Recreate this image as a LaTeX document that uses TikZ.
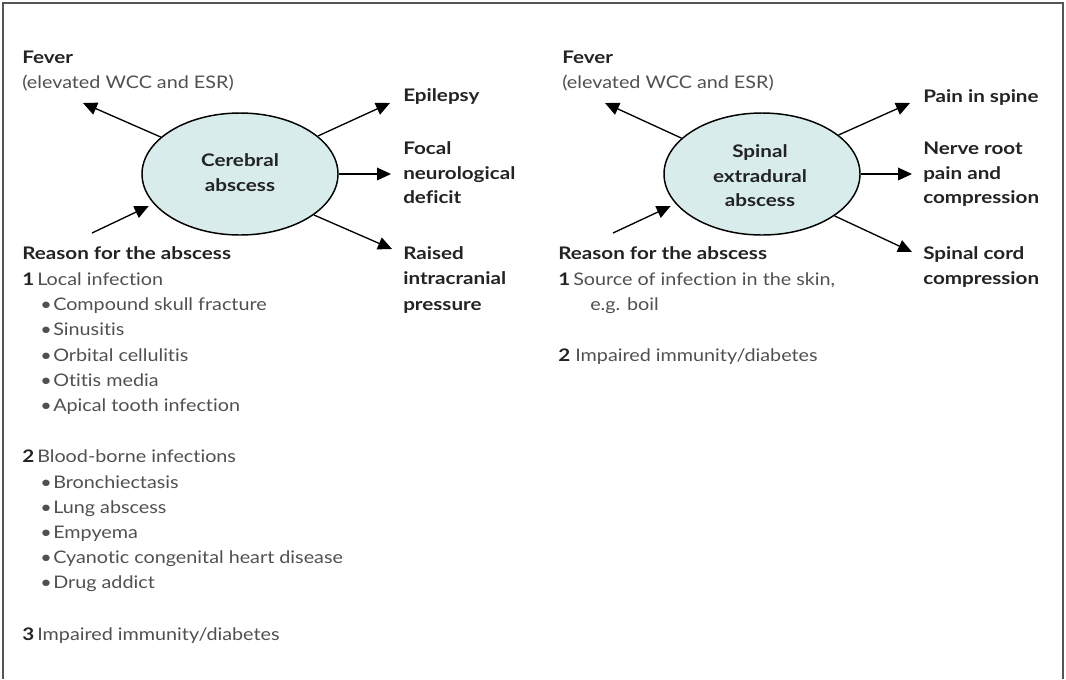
\documentclass[tikz,border=0pt]{standalone}
\usepackage{fontspec}
\setmainfont{Lato}[Ligatures=NoCommon, FakeStretch=1.14, BoldFeatures={FakeStretch=1.19}]
\usetikzlibrary{arrows.meta,shapes.geometric}
\definecolor{ellfill}{RGB}{216,237,235}
\definecolor{regtext}{RGB}{80,80,80}
\definecolor{boldtext}{RGB}{35,35,35}
\definecolor{framecol}{RGB}{85,85,85}
\tikzset{
  abscess/.style={ellipse, draw=black, line width=1.1pt, fill=ellfill, minimum width=147pt, minimum height=91.5pt, inner sep=0pt},
  reg/.style={anchor=base west, inner sep=0pt, text=regtext, font=\fontsize{13}{16}\selectfont},
  hd/.style={anchor=base west, inner sep=0pt, text=boldtext, font=\fontsize{13}{16}\selectfont\bfseries},
  mid/.style={anchor=base, inner sep=0pt, text=boldtext, font=\fontsize{13}{16}\selectfont\bfseries},
  conn/.style={line width=1pt, -{Triangle[length=10.5pt,width=9.5pt]}},
}
\begin{document}
\begin{tikzpicture}[x=0.75pt,y=-0.75pt]
\useasboundingbox (0,0) rectangle (1066,679);
\draw[framecol, line width=1.5pt] (3,679) -- (3,2.5) -- (1063,2.5) -- (1063,679);

% ---------------- Left: cerebral abscess ----------------
\node[abscess] (e1) at (240,174) {};
\node[mid] (e1a) at (240,166.7) {Cerebral};
\node[mid] (e1b) at (240,191.7) {abscess};

\node[hd]  (lfev) at (22,63) {Fever};
\node[reg] (lfev2) at (22,88) {(elevated WCC and ESR)};
\node[hd]  (lepi) at (403,101) {Epilepsy};
\node[hd]  (lfoc1) at (403,154) {Focal};
\node[hd]  (lfoc2) at (403,179) {neurological};
\node[hd]  (lfoc3) at (403,203) {deficit};
\node[hd]  (lrai1) at (403,259) {Raised};
\node[hd]  (lrai2) at (403,284) {intracranial};
\node[hd]  (lrai3) at (403,310) {pressure};
\node[hd]  (lrea) at (22,259) {Reason for the abscess};

\node[hd]  (ln1) at (22,285) {1};
\node[reg] (ln1t) at (37,285) {Local infection};
\node[reg] (lb1) at (40,310) {\makebox[9.75pt][l]{•}Compound skull fracture};
\node[reg] (lb2) at (40,335) {\makebox[9.75pt][l]{•}Sinusitis};
\node[reg] (lb3) at (40,361) {\makebox[9.75pt][l]{•}Orbital cellulitis};
\node[reg] (lb4) at (40,386) {\makebox[9.75pt][l]{•}Otitis media};
\node[reg] (lb5) at (40,411) {\makebox[9.75pt][l]{•}Apical tooth infection};
\node[hd]  (ln2) at (22,462) {2};
\node[reg] (ln2t) at (37,462) {Blood-borne infections};
\node[reg] (lb6) at (40,488) {\makebox[9.75pt][l]{•}Bronchiectasis};
\node[reg] (lb7) at (40,513) {\makebox[9.75pt][l]{•}Lung abscess};
\node[reg] (lb8) at (40,538) {\makebox[9.75pt][l]{•}Empyema};
\node[reg] (lb9) at (40,563) {\makebox[9.75pt][l]{•}Cyanotic congenital heart disease};
\node[reg] (lb10) at (40,588) {\makebox[9.75pt][l]{•}Drug addict};
\node[hd]  (ln3) at (22,640) {3};
\node[reg] (ln3t) at (37,640) {Impaired immunity/diabetes};

\coordinate (lt1) at (83,103);
\coordinate (lt2) at (390,103);
\coordinate (lt3) at (391,174);
\coordinate (lt4) at (392,249);
\coordinate (ls5) at (92,233);
\draw[conn] (e1.155) -- (lt1);
\draw[conn] (e1.26) -- (lt2);
\draw[conn] (e1.east) -- (lt3);
\draw[conn] (e1.-29) -- (lt4);
\draw[conn, shorten >=4pt] (ls5) -- (e1.199);

% ---------------- Right: spinal extradural abscess ----------------
\node[abscess] (e2) at (762,174) {};
\node[mid] (e2a) at (760,157) {Spinal};
\node[mid] (e2b) at (760,182) {extradural};
\node[mid] (e2c) at (760,206) {abscess};

\node[hd]  (rfev) at (562,63) {Fever};
\node[reg] (rfev2) at (562,88) {(elevated WCC and ESR)};
\node[hd]  (rpain) at (923,102) {Pain in spine};
\node[hd]  (rner1) at (923,154) {Nerve root};
\node[hd]  (rner2) at (923,179) {pain and};
\node[hd]  (rner3) at (923,203) {compression};
\node[hd]  (rcord1) at (923,259) {Spinal cord};
\node[hd]  (rcord2) at (923,284) {compression};
\node[hd]  (rrea) at (558,259) {Reason for the abscess};
\node[hd]  (rn1) at (558,285) {1};
\node[reg] (rn1t) at (573,285) {Source of infection in the skin,};
\node[reg] (rn1u) at (590,310) {e.g. boil};
\node[hd]  (rn2) at (558,361) {2};
\node[reg] (rn2t) at (575,361) {Impaired immunity/diabetes};

\coordinate (rt1) at (605,103);
\coordinate (rt2) at (910,103);
\coordinate (rt3) at (912,174);
\coordinate (rt4) at (912,252);
\coordinate (rs5) at (613,233);
\draw[conn] (e2.156) -- (rt1);
\draw[conn] (e2.27) -- (rt2);
\draw[conn] (e2.east) -- (rt3);
\draw[conn] (e2.-30) -- (rt4);
\draw[conn, shorten >=4pt] (rs5) -- (e2.199);
\end{tikzpicture}
\end{document}
